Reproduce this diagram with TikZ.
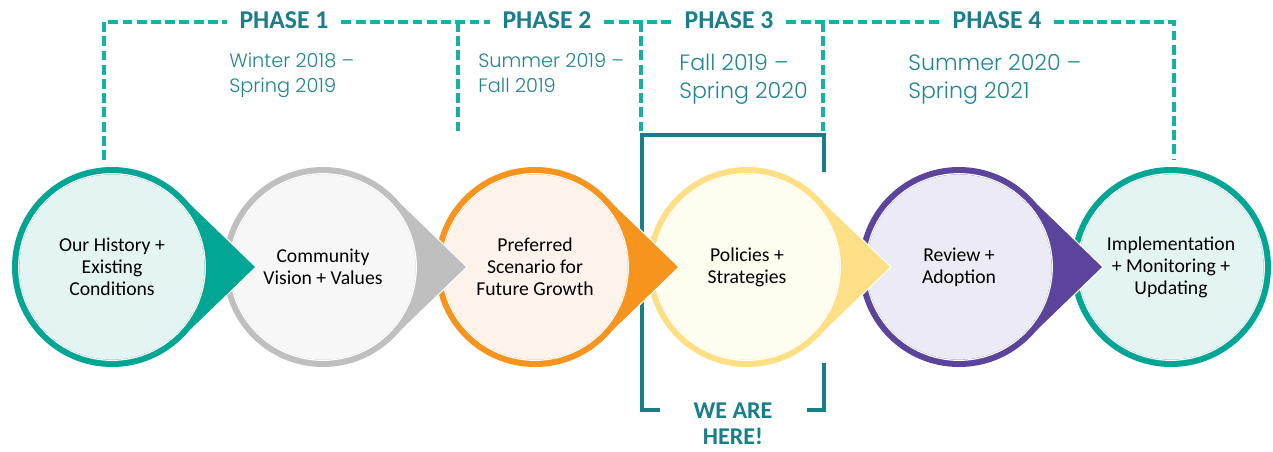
\documentclass[tikz,border=0pt]{standalone}
\usepackage{fontspec}
\setmainfont{Carlito}
\newfontfamily\datefont{Poppins Light}
\usetikzlibrary{calc}
\definecolor{tealring}{HTML}{00A594}
\definecolor{tealfill}{HTML}{E4F4F3}
\definecolor{grayring}{HTML}{BFBFBF}
\definecolor{grayfill}{HTML}{F7F7F7}
\definecolor{orangering}{HTML}{F7941D}
\definecolor{orangefill}{HTML}{FDF3EA}
\definecolor{yellowring}{HTML}{FDE085}
\definecolor{yellowfill}{HTML}{FFFCF0}
\definecolor{purplering}{HTML}{5B449B}
\definecolor{purplefill}{HTML}{ECEAF4}
\definecolor{dashc}{HTML}{16B2A1}
\definecolor{phasec}{HTML}{1A7E8B}
\definecolor{datec}{HTML}{21868F}
\definecolor{bracketc}{HTML}{177E8A}
\tikzset{
  dashline/.style={draw=dashc, line width=1.9pt, dash pattern=on 5.6pt off 2.5pt},
  bracketline/.style={draw=bracketc, line width=1.9pt},
  phaselabel/.style={font=\bfseries\fontsize{14.6pt}{16pt}\selectfont, text=phasec, minimum width=65pt, inner sep=0pt},
  datelabel/.style={font=\datefont\fontsize{11pt}{14.2pt}\selectfont, text=datec, align=left, anchor=north west, inner sep=0pt},
  datelabelbig/.style={datelabel, font=\datefont\fontsize{12.6pt}{15.9pt}\selectfont},
  stagetext/.style={font=\fontsize{11.2pt}{12.5pt}\selectfont, align=center, text=black},
  herelabel/.style={font=\bfseries\fontsize{13.7pt}{14.7pt}\selectfont, text=bracketc, align=center}
}
% #1 name, #2 centre x, #3 ring colour, #4 fill colour, #5 text, #6 pointer (1/0)
\newcommand\drawstage[6]{%
  \coordinate (#1) at (#2,267);
  \ifnum#6=1
    \path[fill=#3, draw=white, line width=0.6pt, line join=miter]
      ($(#1)+(69.5,71.9)$) -- ($(#1)+(144,0)$) -- ($(#1)+(69.5,-71.9)$) -- cycle;
  \fi
  \fill[#3] (#1) circle (100);
  \draw[white, line width=0.7pt] (#1) circle (93.3);
  \fill[#4] (#1) circle (92.6);
  \node[stagetext] (#1-t) at (#1) {#5};
}
\begin{document}
\begin{tikzpicture}[x=0.02cm,y=-0.02cm]
\useasboundingbox[fill=white] (0,0) rectangle (1273,451);
% coordinates of the frame
\coordinate (top) at (0,22);
\coordinate (d1b) at (104,160);
\coordinate (d2b) at (458,135);
\coordinate (d3b) at (641,135);
\coordinate (d4b) at (823,135);
\coordinate (d6b) at (1174,160);
% phase labels
\node[phaselabel] (p1) at (284,20.5) {PHASE 1};
\node[phaselabel] (p2) at (547,20.5) {PHASE 2};
\node[phaselabel] (p3) at (729,20.5) {PHASE 3};
\node[phaselabel] (p4) at (997,20.5) {PHASE 4};
% dashed frame
\draw[dashline] (d1b) -- (d1b |- top) -- (p1.west |- top);
\draw[dashline] (p1.east |- top) -- (p2.west |- top);
\draw[dashline] (p2.east |- top) -- (p3.west |- top);
\draw[dashline] (p3.east |- top) -- (p4.west |- top);
\draw[dashline] (p4.east |- top) -- (d6b |- top) -- (d6b);
\draw[dashline] (d2b |- top) -- (d2b);
\draw[dashline] (d3b |- top) -- (d3b);
\draw[dashline] (d4b |- top) -- (d4b);
% dates
\node[datelabel] (t1) at (229,53) {Winter 2018 –\\Spring 2019};
\node[datelabel] (t2) at (478,53) {Summer 2019 –\\Fall 2019};
\node[datelabelbig] (t3) at (679,54) {Fall 2019 –\\Spring 2020};
\node[datelabelbig] (t4) at (908,54) {Summer 2020 –\\Spring 2021};
% we are here bracket
\coordinate (btl) at (642,135);
\coordinate (btr) at (824,135);
\coordinate (brg1) at (824,172);
\coordinate (brg2) at (824,363);
\coordinate (bbl) at (642,410);
\coordinate (bbr) at (824,410);
\coordinate (bel) at (660,410);
\coordinate (ber) at (807,410);
\draw[bracketline] (bel) -- (bbl) -- (btl) -- (btr) -- (brg1);
\draw[bracketline] (brg2) -- (bbr) -- (ber);
\node[herelabel] (here) at (733,424) {WE ARE\\HERE!};
% stages, right to left so that each pointer lies over the next circle
\drawstage{s6}{1171}{tealring}{tealfill}{Implementation\\+ Monitoring +\\Updating}{0}
\drawstage{s5}{959}{purplering}{purplefill}{Review +\\Adoption}{1}
\drawstage{s4}{747}{yellowring}{yellowfill}{Policies +\\Strategies}{1}
\drawstage{s3}{535}{orangering}{orangefill}{Preferred\\Scenario for\\Future Growth}{1}
\drawstage{s2}{323}{grayring}{grayfill}{Community\\Vision + Values}{1}
\drawstage{s1}{112}{tealring}{tealfill}{Our History +\\Existing\\Conditions}{1}
\end{tikzpicture}
\end{document}
